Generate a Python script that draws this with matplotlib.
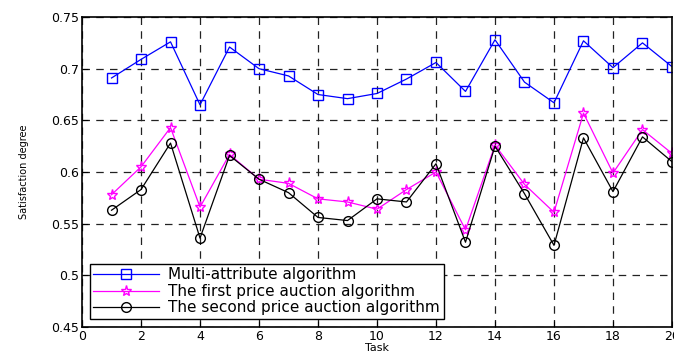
import matplotlib.pyplot as plt

plt.rcParams['font.family'] = ['DejaVu Sans']

tasks = list(range(1, 21))
multi_attr = [0.691, 0.709, 0.726, 0.665, 0.721, 0.700, 0.693, 0.675, 0.671, 0.676,
              0.690, 0.706, 0.678, 0.728, 0.687, 0.667, 0.727, 0.701, 0.725, 0.702]
first_price = [0.578, 0.605, 0.643, 0.566, 0.617, 0.593, 0.589, 0.574, 0.571, 0.564,
               0.583, 0.600, 0.544, 0.626, 0.588, 0.561, 0.657, 0.599, 0.641, 0.618]
second_price = [0.563, 0.583, 0.628, 0.536, 0.616, 0.593, 0.580, 0.556, 0.553, 0.574,
                0.571, 0.608, 0.532, 0.625, 0.579, 0.529, 0.633, 0.581, 0.634, 0.610]
labels = ['Multi-attribute algorithm',
          'The first price auction algorithm',
          'The second price auction algorithm']

fig = plt.figure(figsize=(6.74, 3.55), dpi=100)
ax = fig.add_axes([0.1217, 0.079, 0.8753, 0.873])

ax.plot(tasks, multi_attr, color='#0000ff', lw=0.9, marker='s', ms=7,
        mfc='none', mec='#0000ff', label=labels[0])
ax.plot(tasks, first_price, color='#ff00ff', lw=0.9, marker='*', ms=8,
        mfc='none', mec='#ff00ff', label=labels[1])
ax.plot(tasks, second_price, color='black', lw=0.9, marker='o', ms=7,
        mfc='none', mec='black', label=labels[2])

ax.set_xlim(0, 20)
ax.set_ylim(0.45, 0.75)
ax.set_xticks(range(0, 21, 2))
ax.set_yticks([0.45, 0.5, 0.55, 0.6, 0.65, 0.7, 0.75])
ax.set_yticklabels(['0.45', '0.5', '0.55', '0.6', '0.65', '0.7', '0.75'])
ax.tick_params(direction='in', labelsize=9, length=4, pad=2)
ax.grid(True, color='#222222', linestyle=(0, (6, 5)), lw=0.9)
for s in ax.spines.values():
    s.set_linewidth(1.2)

ax.set_xlabel('Task', fontsize=8, labelpad=0)
ax.set_ylabel('Satisfaction degree', fontsize=7, labelpad=16,
              family='Liberation Sans Narrow')

leg = ax.legend(loc='lower left', fontsize=11, fancybox=False, edgecolor='black',
                framealpha=1, borderaxespad=0.5, handlelength=4.3, labelspacing=0.1,
                borderpad=0.25, handletextpad=0.6)
leg.get_frame().set_linewidth(1.0)

fig.savefig('out.png', dpi=100)
